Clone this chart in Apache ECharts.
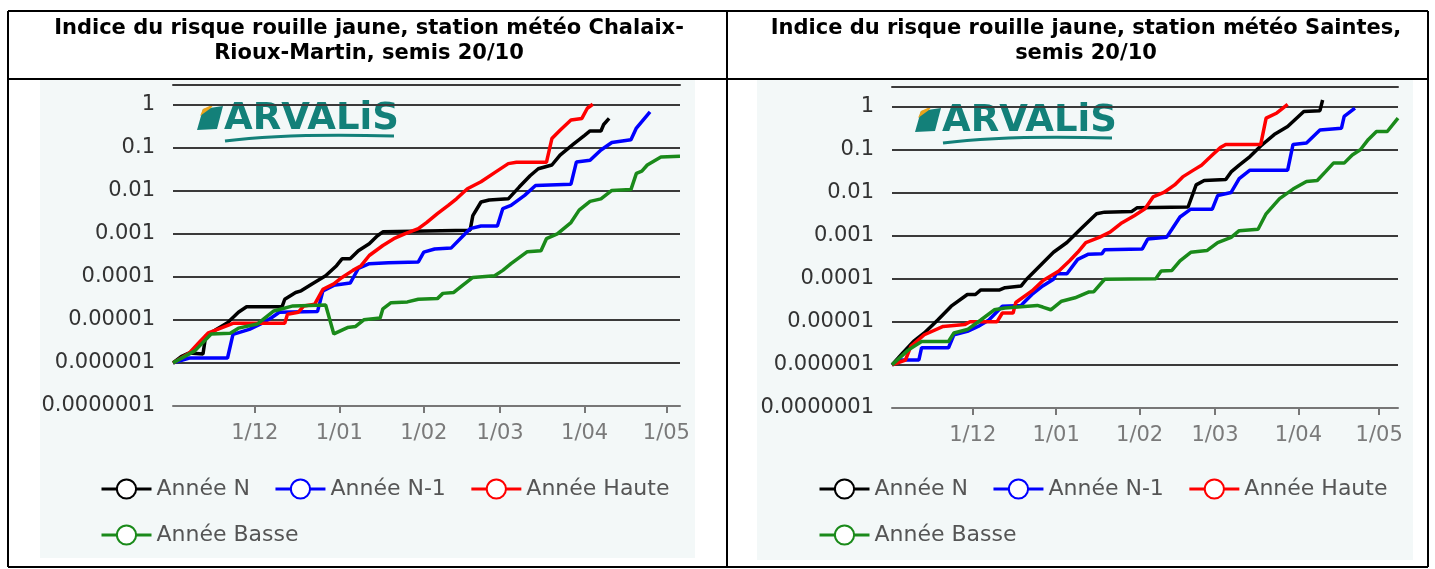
<!DOCTYPE html>
<html>
<head>
<meta charset="utf-8">
<title>Indice du risque rouille jaune</title>
<script src="https://cdn.jsdelivr.net/npm/echarts@6/dist/echarts.min.js"></script>
<style>
  html, body { margin: 0; padding: 0; background: #fff; }
  #chart { width: 1435px; height: 569px; }
</style>
</head>
<body>
<div id="chart"></div>
<script>
var seriesNames = ['Année N', 'Année N-1', 'Année Haute', 'Année Basse'];
var tickDates = ['2024-12-01', '2025-01-01', '2025-02-01', '2025-03-01', '2025-04-01', '2025-05-01'];

// Chalaix-Rioux-Martin
var chalaixN = [['2024-11-01',1e-6],['2024-11-04',1.4e-6],['2024-11-07',1.7e-6],['2024-11-12',1.6e-6],['2024-11-13',4.2e-6],['2024-11-17',6e-6],['2024-11-21',8.5e-6],['2024-11-25',1.5e-5],['2024-11-28',2e-5],['2024-12-11',2e-5],['2024-12-12',3e-5],['2024-12-16',4.3e-5],['2024-12-18',4.7e-5],['2024-12-22',6.8e-5],['2024-12-27',1.05e-4],['2024-12-31',1.8e-4],['2025-01-02',2.6e-4],['2025-01-05',2.6e-4],['2025-01-08',4e-4],['2025-01-12',5.8e-4],['2025-01-15',8.9e-4],['2025-01-17',1.1e-3],['2025-02-18',1.2e-3],['2025-02-19',2.6e-3],['2025-02-22',5.4e-3],['2025-02-25',6e-3],['2025-03-04',6.4e-3],['2025-03-08',1.2e-2],['2025-03-12',2.2e-2],['2025-03-15',3.2e-2],['2025-03-20',3.9e-2],['2025-03-23',6.6e-2],['2025-03-28',0.12],['2025-04-01',0.19],['2025-04-03',0.24],['2025-04-07',0.24],['2025-04-08',0.34],['2025-04-10',0.47]];
var chalaixN1 = [['2024-11-01',1e-6],['2024-11-07',1.3e-6],['2024-11-21',1.3e-6],['2024-11-23',4.6e-6],['2024-11-29',6e-6],['2024-12-03',7.9e-6],['2024-12-07',1.1e-5],['2024-12-10',1.5e-5],['2024-12-24',1.55e-5],['2024-12-26',4.7e-5],['2024-12-30',6.3e-5],['2025-01-05',7.1e-5],['2025-01-08',1.55e-4],['2025-01-12',2e-4],['2025-01-19',2.1e-4],['2025-01-30',2.2e-4],['2025-02-01',3.7e-4],['2025-02-05',4.4e-4],['2025-02-11',4.6e-4],['2025-02-15',8.3e-4],['2025-02-18',1.3e-3],['2025-02-22',1.5e-3],['2025-02-28',1.5e-3],['2025-03-02',3.8e-3],['2025-03-05',4.5e-3],['2025-03-10',7.7e-3],['2025-03-14',1.3e-2],['2025-03-27',1.4e-2],['2025-03-29',4.6e-2],['2025-04-03',5e-2],['2025-04-07',8.7e-2],['2025-04-11',0.13],['2025-04-18',0.15],['2025-04-20',0.28],['2025-04-25',0.67]];
var chalaixHaute = [['2024-11-01',1e-6],['2024-11-07',1.7e-6],['2024-11-11',3.2e-6],['2024-11-14',5e-6],['2024-11-19',6.6e-6],['2024-11-23',8.3e-6],['2024-12-12',8.3e-6],['2024-12-13',1.35e-5],['2024-12-17',1.5e-5],['2024-12-19',2.1e-5],['2024-12-23',2.3e-5],['2024-12-26',5.1e-5],['2024-12-30',6.8e-5],['2025-01-02',9.6e-5],['2025-01-06',1.4e-4],['2025-01-09',1.8e-4],['2025-01-12',3.1e-4],['2025-01-17',5.3e-4],['2025-01-21',7.6e-4],['2025-01-25',9.8e-4],['2025-01-30',1.3e-3],['2025-02-02',1.8e-3],['2025-02-06',2.9e-3],['2025-02-10',4.5e-3],['2025-02-13',6.4e-3],['2025-02-17',1.1e-2],['2025-02-22',1.6e-2],['2025-02-27',2.6e-2],['2025-03-04',4.2e-2],['2025-03-07',4.5e-2],['2025-03-18',4.5e-2],['2025-03-20',0.16],['2025-03-23',0.25],['2025-03-27',0.43],['2025-03-31',0.47],['2025-04-02',0.81],['2025-04-04',1.0]];
var chalaixBasse = [['2024-11-01',1e-6],['2024-11-09',1.9e-6],['2024-11-15',4.7e-6],['2024-11-22',4.9e-6],['2024-11-25',6.4e-6],['2024-12-02',8e-6],['2024-12-08',1.6e-5],['2024-12-15',2.1e-5],['2024-12-27',2.2e-5],['2024-12-30',4.7e-6],['2025-01-04',6.6e-6],['2025-01-07',7e-6],['2025-01-10',1e-5],['2025-01-16',1.1e-5],['2025-01-17',1.8e-5],['2025-01-20',2.5e-5],['2025-01-26',2.6e-5],['2025-01-30',3e-5],['2025-02-06',3.1e-5],['2025-02-08',4.1e-5],['2025-02-12',4.3e-5],['2025-02-15',6.1e-5],['2025-02-19',9.6e-5],['2025-02-27',1.05e-4],['2025-03-02',1.4e-4],['2025-03-05',2e-4],['2025-03-11',3.8e-4],['2025-03-16',4e-4],['2025-03-18',7.6e-4],['2025-03-22',9.8e-4],['2025-03-27',1.8e-3],['2025-03-30',3.5e-3],['2025-04-03',5.6e-3],['2025-04-07',6.4e-3],['2025-04-11',1e-2],['2025-04-18',1.05e-2],['2025-04-20',2.5e-2],['2025-04-22',2.8e-2],['2025-04-24',3.9e-2],['2025-04-29',6e-2],['2025-05-06',6.2e-2]];

// Saintes
var saintesN = [['2024-11-01',1e-6],['2024-11-05',1.9e-6],['2024-11-09',3.5e-6],['2024-11-13',5.5e-6],['2024-11-18',1.1e-5],['2024-11-23',2.3e-5],['2024-11-29',4.3e-5],['2024-12-02',4.3e-5],['2024-12-04',5.5e-5],['2024-12-11',5.5e-5],['2024-12-13',6.2e-5],['2024-12-19',6.8e-5],['2024-12-21',9.7e-5],['2024-12-26',2e-4],['2024-12-31',4.1e-4],['2025-01-05',6.9e-4],['2025-01-10',1.4e-3],['2025-01-16',3.2e-3],['2025-01-19',3.5e-3],['2025-01-29',3.6e-3],['2025-01-31',4.4e-3],['2025-02-19',4.6e-3],['2025-02-22',1.5e-2],['2025-02-25',1.9e-2],['2025-03-05',2e-2],['2025-03-07',3e-2],['2025-03-10',4.3e-2],['2025-03-14',6.8e-2],['2025-03-18',0.12],['2025-03-23',0.22],['2025-03-28',0.34],['2025-04-03',0.76],['2025-04-09',0.79],['2025-04-10',1.4]];
var saintesN1 = [['2024-11-01',1e-6],['2024-11-04',1.3e-6],['2024-11-11',1.3e-6],['2024-11-12',2.5e-6],['2024-11-22',2.5e-6],['2024-11-24',5e-6],['2024-11-29',6e-6],['2024-12-03',7.8e-6],['2024-12-07',1.1e-5],['2024-12-12',2.3e-5],['2024-12-19',2.4e-5],['2024-12-20',2.8e-5],['2024-12-23',4.3e-5],['2024-12-27',6.8e-5],['2024-12-31',9.7e-5],['2025-01-01',1.3e-4],['2025-01-05',1.3e-4],['2025-01-09',2.8e-4],['2025-01-13',3.7e-4],['2025-01-18',3.8e-4],['2025-01-19',4.7e-4],['2025-02-02',4.9e-4],['2025-02-04',8.3e-4],['2025-02-11',9.1e-4],['2025-02-13',1.4e-3],['2025-02-16',2.7e-3],['2025-02-20',4.1e-3],['2025-02-28',4.1e-3],['2025-03-02',8.5e-3],['2025-03-07',1e-2],['2025-03-10',2.1e-2],['2025-03-14',3.3e-2],['2025-03-28',3.3e-2],['2025-03-30',0.13],['2025-04-04',0.14],['2025-04-09',0.28],['2025-04-17',0.31],['2025-04-18',0.58],['2025-04-22',0.91]];
var saintesHaute = [['2024-11-01',1e-6],['2024-11-06',1.3e-6],['2024-11-08',2.7e-6],['2024-11-13',5e-6],['2024-11-20',7.8e-6],['2024-11-28',8.6e-6],['2024-11-30',1e-5],['2024-12-10',1e-5],['2024-12-12',1.6e-5],['2024-12-16',1.6e-5],['2024-12-17',2.8e-5],['2024-12-23',5.2e-5],['2024-12-27',8.9e-5],['2025-01-02',1.5e-4],['2025-01-06',2.6e-4],['2025-01-09',4.1e-4],['2025-01-12',6.9e-4],['2025-01-17',9.1e-4],['2025-01-21',1.2e-3],['2025-01-25',1.9e-3],['2025-01-30',2.9e-3],['2025-02-03',4.2e-3],['2025-02-06',7.9e-3],['2025-02-10',1e-2],['2025-02-14',1.5e-2],['2025-02-17',2.3e-2],['2025-02-21',3.3e-2],['2025-02-24',4.3e-2],['2025-02-28',7.4e-2],['2025-03-03',0.11],['2025-03-05',0.13],['2025-03-18',0.13],['2025-03-20',0.53],['2025-03-24',0.7],['2025-03-28',1.1]];
var saintesBasse = [['2024-11-01',1e-6],['2024-11-07',2.2e-6],['2024-11-12',3.5e-6],['2024-11-22',3.5e-6],['2024-11-24',5.5e-6],['2024-11-29',6.6e-6],['2024-12-04',1.1e-5],['2024-12-09',1.9e-5],['2024-12-13',2.1e-5],['2024-12-25',2.4e-5],['2024-12-27',2.2e-5],['2024-12-30',1.9e-5],['2025-01-03',3e-5],['2025-01-08',3.6e-5],['2025-01-13',4.9e-5],['2025-01-15',5e-5],['2025-01-19',9.7e-5],['2025-02-07',1e-4],['2025-02-09',1.5e-4],['2025-02-13',1.55e-4],['2025-02-16',2.6e-4],['2025-02-20',4.1e-4],['2025-02-26',4.5e-4],['2025-03-02',6.9e-4],['2025-03-07',9.1e-4],['2025-03-10',1.3e-3],['2025-03-17',1.4e-3],['2025-03-20',3.2e-3],['2025-03-25',7.2e-3],['2025-03-30',1.2e-2],['2025-04-04',1.8e-2],['2025-04-08',1.9e-2],['2025-04-11',3e-2],['2025-04-14',4.8e-2],['2025-04-18',4.8e-2],['2025-04-21',7.4e-2],['2025-04-24',9.8e-2],['2025-04-27',0.17],['2025-04-30',0.26],['2025-05-04',0.26],['2025-05-08',0.53]];

var lineColors = ['#000000', '#0000ff', '#ff0000', '#1a8a1a'];
var FONT = 'DejaVu Sans';

function toTime(s) {
    var p = s.split('-');
    return new Date(+p[0], +p[1] - 1, +p[2]).getTime();
}
var tickTimes = tickDates.map(toTime);

function dayMonth(v) {
    var d = new Date(v);
    return d.getDate() + '/' + ('0' + (d.getMonth() + 1)).slice(-2);
}

function logLabel(v) {
    var l = Math.log10(v);
    var e = Math.round(l);
    if (Math.abs(l - e) > 1e-6 || e > 0) return '';
    if (e === 0) return '1';
    return '0.' + '0'.repeat(-e - 1) + '1';
}

// dates are placed on a value axis (milliseconds) so ticks can sit on month starts only
function xAxisFor(gi, maxDate) {
    return {
        type: 'value', gridIndex: gi,
        min: toTime('2024-11-01'), max: toTime(maxDate),
        splitLine: { show: false },
        axisLine: { onZero: false, lineStyle: { color: '#777', width: 2 } },
        axisTick: { customValues: tickTimes, length: 7, lineStyle: { color: '#777', width: 2 } },
        axisLabel: { customValues: tickTimes, formatter: dayMonth, margin: 17,
            fontFamily: FONT, fontSize: 21, color: '#7a7a7a' }
    };
}

function yAxisFor(gi) {
    return {
        type: 'log', logBase: 10, gridIndex: gi,
        min: 1e-7, max: 2.8,
        axisLine: { show: false },
        axisTick: { show: false },
        splitLine: { lineStyle: { color: '#3a3a3a', width: 2 } },
        axisLabel: { formatter: logLabel, margin: 18, fontFamily: FONT, fontSize: 21, color: '#333' }
    };
}

function topLine(gi) {
    return {
        type: 'value', gridIndex: gi, position: 'top', min: 0, max: 1,
        axisLine: { show: true, onZero: false, lineStyle: { color: '#3a3a3a', width: 2 } },
        axisTick: { show: false }, axisLabel: { show: false }, splitLine: { show: false }
    };
}

function buildSeries(gi, xi, groups) {
    return groups.map(function (data, i) {
        return {
            name: seriesNames[i], type: 'line', xAxisIndex: xi, yAxisIndex: gi,
            data: data.map(function (p) { return [toTime(p[0]), p[1]]; }),
            showSymbol: false, symbol: 'circle',
            lineStyle: { width: 3.5, color: lineColors[i] },
            itemStyle: { color: '#fff', borderColor: lineColors[i], borderWidth: 3 }
        };
    });
}

function legendAt(left) {
    return {
        left: left, top: 473, width: 610,
        itemWidth: 50, itemHeight: 24, itemGap: 24,
        data: seriesNames,
        lineStyle: { width: 3 },
        textStyle: { fontFamily: FONT, fontSize: 22, color: '#555' }
    };
}

function logo(ox, oy) {
    var teal = '#138079';
    return [
        { type: 'polygon', shape: { points: [[ox + 6, oy + 7], [ox + 26, oy + 4], [ox + 20, oy + 27], [ox, oy + 28]] },
          style: { fill: teal } },
        { type: 'polygon', shape: { points: [[ox + 6, oy + 7], [ox + 17, oy + 2], [ox + 14, oy + 6], [ox + 3, oy + 14]] },
          style: { fill: '#e9a31b' } },
        { type: 'text', x: ox + 27, y: oy - 1,
          style: { text: 'ARVALiS', fill: teal, fontFamily: FONT, fontWeight: 'bold', fontSize: 37 } },
        { type: 'bezierCurve',
          shape: { x1: ox + 28, y1: oy + 39, cpx1: ox + 90, cpy1: oy + 31, x2: ox + 197, y2: oy + 34 },
          style: { stroke: teal, lineWidth: 3, fill: null } }
    ];
}

function border(x1, y1, x2, y2) {
    return { type: 'line', shape: { x1: x1, y1: y1, x2: x2, y2: y2 }, style: { stroke: '#000', lineWidth: 2 } };
}

var titleStyle = { fill: '#000', fontFamily: FONT, fontWeight: 'bold', fontSize: 21, lineHeight: 25, align: 'center' };

var graphics = [
    { type: 'rect', z: -10, shape: { x: 40, y: 80, width: 655, height: 478 }, style: { fill: '#f3f8f8' } },
    { type: 'rect', z: -10, shape: { x: 757, y: 80, width: 656, height: 480 }, style: { fill: '#f3f8f8' } },
    border(8, 11, 1428, 11), border(8, 79, 1428, 79), border(8, 567, 1428, 567),
    border(8, 11, 8, 567), border(727, 11, 727, 567), border(1428, 11, 1428, 567),
    { type: 'text', x: 369, y: 16, style: Object.assign({ text: 'Indice du risque rouille jaune, station météo Chalaix-\nRioux-Martin, semis 20/10' }, titleStyle) },
    { type: 'text', x: 1086, y: 16, style: Object.assign({ text: 'Indice du risque rouille jaune, station météo Saintes,\nsemis 20/10' }, titleStyle) }
].concat(logo(197, 102), logo(915, 104));

var chart = echarts.init(document.getElementById('chart'), null, { renderer: 'canvas' });
var option = {
    animation: false,
    backgroundColor: '#fff',
    graphic: graphics,
    legend: [legendAt(95), legendAt(813)],
    grid: [
        { left: 173, right: 755, top: 85, bottom: 163 },
        { left: 892, right: 37, top: 87, bottom: 161 }
    ],
    xAxis: [xAxisFor(0, '2025-05-06'), xAxisFor(1, '2025-05-08'), topLine(0), topLine(1)],
    yAxis: [yAxisFor(0), yAxisFor(1)],
    series: buildSeries(0, 0, [chalaixN, chalaixN1, chalaixHaute, chalaixBasse])
        .concat(buildSeries(1, 1, [saintesN, saintesN1, saintesHaute, saintesBasse]))
};
chart.setOption(option);
</script>
</body>
</html>
